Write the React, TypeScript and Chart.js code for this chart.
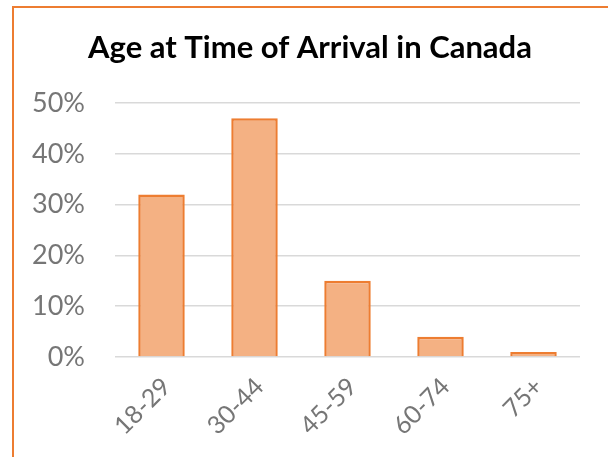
import React, { useEffect, useRef } from "react";
import { Chart, registerables } from "chart.js";

Chart.register(...registerables);

const categories = ["18-29", "30-44", "45-59", "60-74", "75+"];
const shares = [32, 47, 15, 4, 1];
const yTicks = [0, 10, 20, 30, 40, 50];
const titleText = "Age at Time of Arrival in Canada";

const FONT = "Lato, 'Open Sans', sans-serif";

const titlePlugin = {
  id: "frameTitle",
  afterDraw(chart: any) {
    const ctx = chart.ctx;
    ctx.save();
    ctx.font = `bold 31px ${FONT}`;
    ctx.fillStyle = "#000000";
    ctx.textAlign = "center";
    ctx.textBaseline = "alphabetic";
    ctx.fillText(titleText, 310, 58);
    ctx.restore();
  },
};

export default function App() {
  const ref = useRef<HTMLCanvasElement | null>(null);

  useEffect(() => {
    if (!ref.current) return;
    const chart = new Chart(ref.current, {
      type: "bar",
      data: {
        labels: categories,
        datasets: [
          {
            data: shares,
            backgroundColor: "#F4B183",
            borderColor: "#ED7D31",
            borderWidth: 2.5,
            barPercentage: 0.5,
            categoryPercentage: 1,
          },
        ],
      },
      options: {
        responsive: false,
        animation: false,
        layout: { padding: { left: 0, right: 28, top: 103, bottom: 0 } },
        plugins: {
          legend: { display: false },
          tooltip: { enabled: false },
          title: { display: false },
        },
        scales: {
          x: {
            grid: { display: false },
            border: { display: false },
            ticks: {
              color: "#767676",
              font: { family: FONT, size: 25 },
              minRotation: 45,
              maxRotation: 45,
              padding: 7,
              labelOffset: 5,
            },
            afterFit: (s: any) => {
              s.height = 100;
            },
          },
          y: {
            min: 0,
            max: 50,
            grid: { color: "#d9d9d9", lineWidth: 1.5, drawTicks: false },
            border: { display: false },
            afterBuildTicks: (s: any) => {
              s.ticks = yTicks.map((v) => ({ value: v }));
            },
            ticks: {
              color: "#767676",
              font: { family: FONT, size: 27 },
              padding: 30,
              callback: (v: any) => v + "%",
            },
            afterFit: (s: any) => {
              s.width = 115;
            },
          },
        },
      },
      plugins: [titlePlugin],
    });
    return () => chart.destroy();
  }, []);

  return (
    <div
      style={{
        position: "fixed",
        left: 0,
        top: 0,
        width: 608,
        height: 457,
        overflow: "hidden",
        background: "#ffffff",
      }}
    >
      <div
        style={{
          position: "absolute",
          left: 12,
          top: 6,
          width: 640,
          height: 480,
          border: "2px solid #ED7D31",
          boxSizing: "border-box",
        }}
      />
      <canvas
        ref={ref}
        width={608}
        height={457}
        style={{ position: "absolute", left: 0, top: 0, width: 608, height: 457 }}
      />
    </div>
  );
}
